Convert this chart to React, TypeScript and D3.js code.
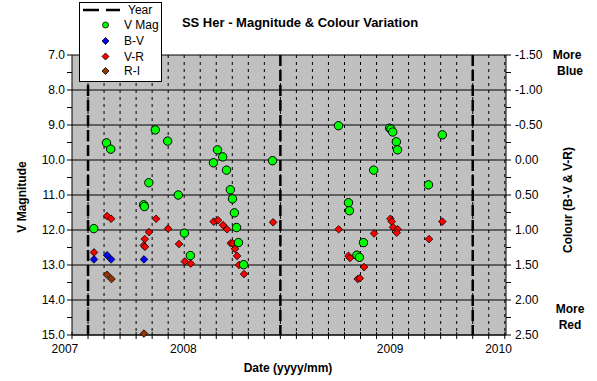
import React from "react";
import * as d3 from "d3";

// ---- data (decimal year, value) ----
const vMagDates = [2007.030, 2007.096, 2007.118, 2007.289, 2007.293, 2007.316, 2007.350, 2007.414, 2007.469, 2007.501, 2007.532,
  2007.652, 2007.673, 2007.700, 2007.720, 2007.740, 2007.751, 2007.761, 2007.772, 2007.782, 2007.809, 2007.959,
  2008.302, 2008.354, 2008.359, 2008.398, 2008.411, 2008.432, 2008.485, 2008.568, 2008.575, 2008.584, 2008.603, 2008.609, 2008.770, 2008.842];
const vMagValues = [11.96, 9.51, 9.69, 11.28, 11.33, 10.65, 9.14, 9.46, 11.00, 12.09, 12.73,
  10.08, 9.71, 9.91, 10.29, 10.85, 11.11, 11.51, 11.93, 12.36, 12.99, 10.02,
  9.02, 11.22, 11.45, 12.72, 12.78, 12.36, 10.29, 9.09, 9.12, 9.20, 9.48, 9.71, 10.71, 9.28];

const bvDates = [2007.031, 2007.099, 2007.120, 2007.291];
const bvValues = [1.42, 1.36, 1.42, 1.42];

const vrDates = [2007.031, 2007.099, 2007.120, 2007.290, 2007.296, 2007.295, 2007.317, 2007.354, 2007.416, 2007.473, 2007.503, 2007.534,
  2007.653, 2007.676, 2007.702, 2007.723, 2007.742, 2007.752, 2007.764, 2007.775, 2007.785, 2007.811, 2007.962,
  2008.303, 2008.354, 2008.362, 2008.402, 2008.413, 2008.435, 2008.487, 2008.572, 2008.579, 2008.586, 2008.610, 2008.605, 2008.773, 2008.842];
const vrValues = [1.32, 0.80, 0.84, 1.22, 1.24, 1.13, 1.03, 0.84, 0.98, 1.20, 1.45, 1.48,
  0.88, 0.86, 0.93, 0.99, 1.19, 1.19, 1.27, 1.37, 1.50, 1.63, 0.89,
  0.99, 1.37, 1.40, 1.70, 1.69, 1.53, 1.05, 0.84, 0.88, 0.96, 0.99, 1.04, 1.13, 0.88];

const riDates = [2007.099, 2007.122, 2007.291];
const riValues = [1.64, 1.70, 2.48];

const yearLines = [2007, 2008, 2009];
const xLabels = ["2007", "2008", "2009", "2010"];
const xLabelPos = [2006.880, 2007.496, 2008.571, 2009.134];
const leftTicks = [7, 8, 9, 10, 11, 12, 13, 14, 15];
const rightTicks = [-1.5, -1.0, -0.5, 0, 0.5, 1.0, 1.5, 2.0, 2.5];

const FONT = "Arial, 'Liberation Sans', sans-serif";

const L = 72, R = 506, T = 55, B = 335;

export default function App() {
  const x = d3.scaleLinear().domain([2006 + 11 / 12, 2009.173]).range([L, R]);
  const yL = d3.scaleLinear().domain([7, 15]).range([T, B]);
  const yR = d3.scaleLinear().domain([-1.5, 2.5]).range([T, B]);

  const months = d3.range(0, 28).map((i) => 2006 + 11 / 12 + i / 12);
  const leftMinor = d3.range(7, 15.01, 0.5);
  const rightMinor = d3.range(-1.5, 2.51, 0.25);

  const diamond = (cx: number, cy: number, s: number) =>
    `M${cx},${cy - s}L${cx + s},${cy}L${cx},${cy + s}L${cx - s},${cy}Z`;

  return (
    <svg width={597} height={381} style={{ position: "absolute", left: 0, top: 0, background: "#fff" }} fontFamily={FONT}>
      <rect x={L} y={T} width={R - L} height={B - T} fill="#C0C0C0" />
      {/* vertical month gridlines */}
      {months.slice(1).map((m, i) => (
        <line key={"vg" + i} x1={x(m)} x2={x(m)} y1={T} y2={B} stroke="#000" strokeWidth={1} strokeDasharray="3 4" />
      ))}
      {/* horizontal gridlines */}
      {leftTicks.map((v) => (
        <line key={"hg" + v} x1={L} x2={R} y1={yL(v)} y2={yL(v)} stroke="#000" strokeWidth={1} />
      ))}
      {/* year lines */}
      {yearLines.map((yv) => (
        <line key={"yl" + yv} x1={x(yv)} x2={x(yv)} y1={T} y2={B} stroke="#000" strokeWidth={2.5} strokeDasharray="11 4" />
      ))}
      {/* axes */}
      <line x1={L} x2={L} y1={T} y2={B} stroke="#000" />
      <line x1={R} x2={R} y1={T} y2={B} stroke="#000" />
      <line x1={L} x2={R} y1={B} y2={B} stroke="#000" />
      {leftMinor.map((v, i) => (
        <line key={"lt" + i} x1={L - 5} x2={L} y1={yL(v)} y2={yL(v)} stroke="#000" />
      ))}
      {rightMinor.map((v, i) => (
        <line key={"rt" + i} x1={R} x2={R + 5} y1={yR(v)} y2={yR(v)} stroke="#000" />
      ))}
      {months.map((m, i) => (
        <line key={"xt" + i} x1={x(m)} x2={x(m)} y1={B - 3} y2={B + 4} stroke="#000" />
      ))}
      {leftTicks.map((v) => (
        <text key={"ll" + v} x={L - 7} y={yL(v) + 4} fontSize={12} textAnchor="end" fill="#000">{v.toFixed(1)}</text>
      ))}
      {rightTicks.map((v) => (
        <text key={"rl" + v} x={R + 9} y={yR(v) + 4} fontSize={12} textAnchor="start" fill="#000">{v.toFixed(2)}</text>
      ))}
      {xLabels.map((s, i) => (
        <text key={"xl" + s} x={x(xLabelPos[i])} y={353} fontSize={12} textAnchor="middle" fill="#000">{s}</text>
      ))}
      {/* data */}
      {riDates.map((d, i) => (
        <path key={"ri" + i} d={diamond(x(d), yR(riValues[i]), 3.8)} fill="#993300" stroke="#000" strokeWidth={0.8} />
      ))}
      {bvDates.map((d, i) => (
        <path key={"bv" + i} d={diamond(x(d), yR(bvValues[i]), 3.8)} fill="#0000FF" stroke="#000" strokeWidth={0.8} />
      ))}
      {vrDates.map((d, i) => (
        <path key={"vr" + i} d={diamond(x(d), yR(vrValues[i]), 3.8)} fill="#FF0000" stroke="#000" strokeWidth={0.8} />
      ))}
      {vMagDates.map((d, i) => (
        <circle key={"vm" + i} cx={x(d)} cy={yL(vMagValues[i])} r={4.2} fill="#00FF00" stroke="#000" strokeWidth={1} />
      ))}
      {/* titles */}
      <text x={300} y={27} fontSize={13} fontWeight="bold" textAnchor="middle" fill="#000">SS Her - Magnitude &amp; Colour Variation</text>
      <text x={288} y={372} fontSize={12} fontWeight="bold" textAnchor="middle" fill="#000">Date (yyyy/mm)</text>
      <text transform="translate(26,197) rotate(-90)" fontSize={12} fontWeight="bold" textAnchor="middle" fill="#000">V Magnitude</text>
      <text transform="translate(572,200) rotate(-90)" fontSize={12} fontWeight="bold" textAnchor="middle" fill="#000">Colour (B-V &amp; V-R)</text>
      <text x={567} y={59} fontSize={12} fontWeight="bold" textAnchor="middle" fill="#000">More</text>
      <text x={570} y={75} fontSize={12} fontWeight="bold" textAnchor="middle" fill="#000">Blue</text>
      <text x={570} y={313} fontSize={12} fontWeight="bold" textAnchor="middle" fill="#000">More</text>
      <text x={570} y={329} fontSize={12} fontWeight="bold" textAnchor="middle" fill="#000">Red</text>
      {/* legend */}
      <rect x={79.5} y={2.5} width={82} height={79} fill="#fff" stroke="#000" />
      <line x1={83} x2={120} y1={10} y2={10} stroke="#000" strokeWidth={2.5} strokeDasharray="16 7" />
      <circle cx={105.5} cy={25} r={3} fill="#00FF00" stroke="#000" strokeWidth={0.8} />
      <path d={diamond(105.5, 41, 3.5)} fill="#0000FF" stroke="#000" strokeWidth={0.8} />
      <path d={diamond(105.5, 56.5, 3.5)} fill="#FF0000" stroke="#000" strokeWidth={0.8} />
      <path d={diamond(105.5, 71, 3.5)} fill="#993300" stroke="#000" strokeWidth={0.8} />
      {["Year", "V Mag", "B-V", "V-R", "R-I"].map((s, i) => (
        <text key={"lg" + s} x={i === 0 ? 128 : 124} y={[14, 29, 45, 60.5, 75][i]} fontSize={12} fill="#000">{s}</text>
      ))}
    </svg>
  );
}
